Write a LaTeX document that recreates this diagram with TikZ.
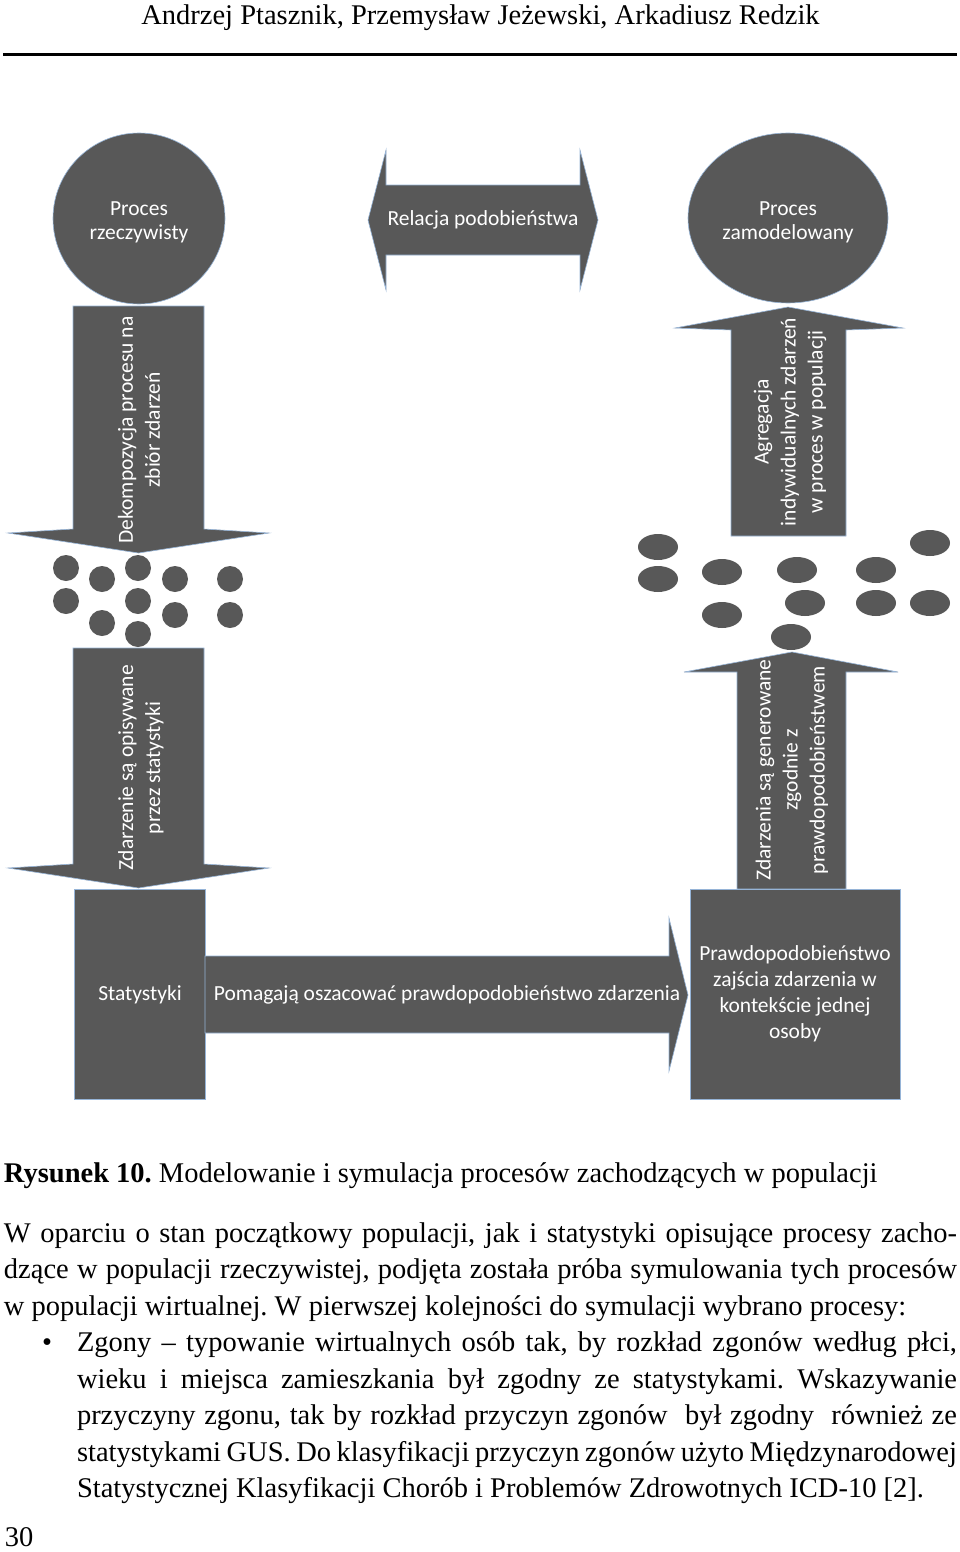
\documentclass[tikz,border=0pt]{standalone}
\usepackage{fontspec}
\setmainfont{Liberation Serif}
\newfontfamily\calib{Carlito}
\usetikzlibrary{shapes.geometric}
\definecolor{shapegray}{RGB}{88,88,88}
\definecolor{edgeblue}{RGB}{150,180,215}
\frenchspacing
\begin{document}
\begin{tikzpicture}[x=1pt,y=-1pt,
  every node/.style={inner sep=0pt,outer sep=0pt},
  blk/.style={fill=shapegray,draw=edgeblue,line width=0.6pt},
  lbl/.style={text=white,font=\calib\fontsize{21.5}{24}\selectfont,align=center},
  lblw/.style={text=white,font=\calib\fontsize{21.5}{27}\selectfont,align=center},
  dotl/.style={fill=shapegray,circle,minimum size=26pt},
  dotr/.style={fill=shapegray,ellipse,minimum width=40pt,minimum height=26pt},
  body/.style={font=\fontsize{28.5}{36.5}\selectfont,anchor=base west}]
\fill[white] (0,0) rectangle (960,1552);
\useasboundingbox (0,0) rectangle (960,1552);

% header
\node[body,anchor=base] (head) at (480.5,25) {Andrzej Ptasznik, Przemysław Jeżewski, Arkadiusz Redzik};
\coordinate (ruleL) at (3,55);
\coordinate (ruleR) at (957,55);
\draw[line width=3pt] (ruleL) -- (ruleR);

% circles
\node[blk,ellipse,minimum width=172pt,minimum height=171pt] (real) at (139,218.5) {};
\node[blk,ellipse,minimum width=200pt,minimum height=170pt] (model) at (788,218) {};
\node[lbl] (realt) at (139,222) {Proces\\rzeczywisty};
\node[lbl] (modelt) at (788,222) {Proces\\zamodelowany};

% relation double arrow
\draw[blk] (368,220) -- (386,150) -- (386,185) -- (580,185) -- (580,150) -- (598,220)
  -- (580,290) -- (580,255) -- (386,255) -- (386,290) -- cycle;
\node[lbl] (relt) at (483,220) {Relacja podobieństwa};

% left down arrows
\draw[blk] (73,306) -- (204,306) -- (204,529) -- (269,533) -- (138.5,553) -- (8,533) -- (73,529) -- cycle;
\node[lblw,rotate=90] (dekt) at (139,430) {Dekompozycja procesu na\\zbiór zdarzeń};
\draw[blk] (73,648) -- (204,648) -- (204,864) -- (269,868) -- (138.5,888) -- (8,868) -- (73,864) -- cycle;
\node[lblw,rotate=90] (zdt) at (141,768) {Zdarzenie są opisywane\\przez statystyki};

% left dots
\node[dotl] (l1) at (66,568) {};
\node[dotl] (l2) at (66,601) {};
\node[dotl] (l3) at (102,579) {};
\node[dotl] (l4) at (102,623) {};
\node[dotl] (l5) at (138,568) {};
\node[dotl] (l6) at (138,601) {};
\node[dotl] (l7) at (138,634) {};
\node[dotl] (l8) at (175,579) {};
\node[dotl] (l9) at (175,615) {};
\node[dotl] (l10) at (230,579) {};
\node[dotl] (l11) at (230,615) {};

% right up arrows
\draw[blk] (731,536) -- (731,330) -- (675,328) -- (788,307) -- (903,328) -- (846,330) -- (846,536) -- cycle;
\node[lblw,rotate=90] (agrt) at (790,422) {Agregacja\\indywidualnych zdarzeń\\w proces w populacji};
\draw[blk] (737,889) -- (737,672) -- (684,672) -- (792,652) -- (898,672) -- (846,672) -- (846,889) -- cycle;
\node[lblw,rotate=90] (gent) at (792,770) {Zdarzenia są generowane\\zgodnie z\\prawdopodobieństwem};

% right dots
\node[dotr] (r1) at (658,547) {};
\node[dotr] (r2) at (658,579) {};
\node[dotr] (r3) at (722,572) {};
\node[dotr] (r4) at (722,615) {};
\node[dotr] (r5) at (797,570) {};
\node[dotr] (r6) at (805,603) {};
\node[dotr] (r7) at (791,637) {};
\node[dotr] (r8) at (876,570) {};
\node[dotr] (r9) at (876,603) {};
\node[dotr] (r10) at (930,543) {};
\node[dotr] (r11) at (930,603) {};

% bottom boxes and arrow
\node[blk,rectangle,minimum width=131pt,minimum height=210pt] (stat) at (139.5,994) {};
\node[lbl] (statt) at (140,995) {Statystyki};
\draw[blk] (205,956) -- (669,956) -- (669,918) -- (688,995) -- (669,1071) -- (669,1033) -- (205,1033) -- cycle;
\node[lbl] (pomt) at (447,995) {Pomagają oszacować prawdopodobieństwo zdarzenia};
\node[blk,rectangle,minimum width=210pt,minimum height=210pt] (prob) at (795,994) {};
\node[text=white,font=\calib\fontsize{21.5}{26}\selectfont,align=center] (probt) at (795,994)
  {Prawdopodobieństwo\\zajścia zdarzenia w\\kontekście jednej\\osoby};

% caption and text
\node[body] (cap) at (4,1182.5) {\textbf{Rysunek 10.} Modelowanie i symulacja procesów zachodzących w populacji};
\node[body] (p1) at (4,1242) {\makebox[953pt][s]{W oparciu o stan początkowy populacji, jak i statystyki opisujące procesy zacho-}};
\node[body] (p2) at (4,1278.5) {\makebox[953pt][s]{dzące w populacji rzeczywistej, podjęta została próba symulowania tych procesów}};
\node[body] (p3) at (4,1315) {w populacji wirtualnej. W pierwszej kolejności do symulacji wybrano procesy:};
\node[body,anchor=base] (bul) at (47,1351.5) {\textbullet};
\node[body] (i1) at (77,1351.5) {\makebox[880pt][s]{Zgony – typowanie wirtualnych osób tak, by rozkład zgonów według płci,}};
\node[body] (i2) at (77,1388) {\makebox[880pt][s]{wieku i miejsca zamieszkania był zgodny ze statystykami. Wskazywanie}};
\node[body] (i3) at (77,1424.5) {\makebox[880pt][s]{przyczyny zgonu, tak by rozkład przyczyn zgonów~ był zgodny~ również ze}};
\node[body] (i4) at (77,1461) {\makebox[880pt][s]{statystykami GUS. Do klasyfikacji przyczyn zgonów użyto Międzynarodowej}};
\node[body] (i5) at (77,1497.5) {Statystycznej Klasyfikacji Chorób i Problemów Zdrowotnych ICD-10 [2].};
\node[body] (pg) at (5,1546) {30};
\end{tikzpicture}
\end{document}
